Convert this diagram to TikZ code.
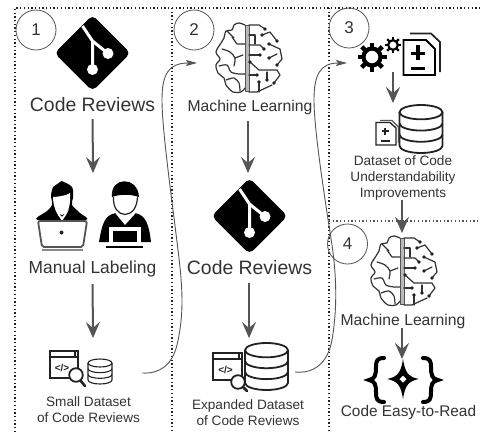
\documentclass[tikz,border=0pt]{standalone}
\usepackage{fontspec}
\setmainfont{Liberation Sans}
\usetikzlibrary{arrows.meta}
\definecolor{ink}{HTML}{333333}
\definecolor{flowgray}{HTML}{555555}
\definecolor{icon}{HTML}{222222}
\tikzset{
  frameline/.style={draw=icon,line width=1.1pt,dash pattern=on 1.3pt off 2.4pt},
  numcirc/.style={circle,draw=flowgray,line width=0.8pt,minimum size=40pt,inner sep=0pt,font=\fontsize{17}{17}\selectfont,text=ink},
  flow/.style={draw=flowgray,line width=2pt,-{Stealth[length=16pt,width=14pt,inset=6pt]}},
  curveline/.style={draw=flowgray,line width=0.9pt,-{Stealth[length=11pt,width=6pt,inset=2pt]}},
  hold/.style={inner sep=0pt,outer sep=0pt},
  lab/.style={inner sep=0pt,outer sep=0pt,text=ink,align=center},
  bigl/.style={lab,font=\fontsize{19.4}{22}\selectfont},
  midl/.style={lab,font=\fontsize{15.7}{18}\selectfont},
  manl/.style={lab,font=\fontsize{17.4}{20}\selectfont},
  smal/.style={lab,font=\fontsize{13.6}{15.8}\selectfont},
  brainline/.style={draw=ink,line width=1.2pt,line cap=round,line join=round},
  braindot/.style={fill=icon}
}
\newcommand\gitlogo[2]{%
  \begin{scope}[shift={(#1,#2)}]
    \fill[black,rounded corners=5pt] (-38,0) -- (0,-38) -- (38,0) -- (0,38) -- cycle;
    \draw[white,line width=3pt] (-10,-27) -- (0,-12) -- (0,16);
    \draw[white,line width=3pt] (0,-12) -- (15.5,0.5);
    \fill[white] (0,16.5) circle (5.5pt);
    \fill[white] (15.5,0.5) circle (5.5pt);
  \end{scope}}
\newcommand\brainicon[2]{%
  \begin{scope}[shift={(#1,#2)}]
    \draw[draw=flowgray,line width=0.8pt,fill=gray!55] (-2,-33) rectangle (2,33);
    \draw[brainline] plot[smooth,tension=0.55] coordinates {(-2,-33) (-8,-35) (-13,-33) (-15,-28) (-21,-27) (-23,-20) (-26,-15) (-31,-6) (-27,1) (-31,7) (-29,15) (-23,20) (-21,27) (-14,34) (-6,34) (-2,30)};
    \draw[brainline] (-2,-14) -- (-10,-14) -- (-15,-21);
    \draw[brainline] plot[smooth] coordinates {(-25,-9) (-17,-6) (-12,0) (-13,8)};
    \draw[brainline] (-12,0) -- (-4,-3);
    \draw[brainline] plot[smooth] coordinates {(-28,8) (-20,7) (-16,14) (-8,16) (-2,16)};
    \draw[brainline] plot[smooth] coordinates {(-21,22) (-13,20) (-8,25) (-7,33)};
    \draw[brainline] (-20,-27) -- (-13,-20);
    \draw[brainline] (2,-33) -- (12,-33) -- (18,-29);
    \draw[brainline] (15,-23) -- (23,-26) -- (30,-17);
    \draw[brainline] (22,-14) -- (33,-9) -- (35,1) -- (30,7);
    \draw[brainline] (2,-13) -- (13,-13) -- (17,-9);
    \draw[brainline] (2,-3) -- (13,-3);
    \draw[brainline] (22,0) -- (30,-4);
    \draw[brainline] (3,4) -- (12,12) -- (30,12) -- (33,17) -- (27,25);
    \draw[brainline] (2,34) -- (10,34) -- (25,27);
    \draw[brainline] (2,17) -- (10,17);
    \draw[brainline] (20,14) -- (20,22);
    \draw[brainline] (12,24) -- (12,34);
    \draw[brainline] (2,-23) -- (8,-23) -- (8,-14);
    \foreach \p in {(18,-29),(15,-23),(30,-17),(22,-14),(30,7),(17,-9),(13,-3),(22,0),(3,4),(27,25),(10,17),(20,22),(12,24)}
      \fill[braindot] \p circle (1.8pt);
  \end{scope}}
\newcommand\dbicon[5]{% cx, top, rx, height, line width
  \begin{scope}[shift={(#1,#2)},line width=#5]
    \pgfmathsetmacro\ry{#3/3}
    \pgfmathsetmacro\hh{#4-2*\ry}
    \path[fill=white] (-#3,\ry) -- (-#3,\ry+\hh) -- (#3,\ry+\hh) -- (#3,\ry) -- cycle;
    \draw[icon,fill=white] (0,\ry) ellipse [x radius=#3pt,y radius=\ry pt];
    \draw[icon] (-#3,\ry) -- (-#3,\ry+\hh) arc[start angle=180,end angle=360,x radius=#3pt,y radius=\ry pt] -- (#3,\ry);
    \draw[icon] (-#3,\ry+\hh/3) arc[start angle=180,end angle=360,x radius=#3pt,y radius=\ry pt];
    \draw[icon] (-#3,\ry+2*\hh/3) arc[start angle=180,end angle=360,x radius=#3pt,y radius=\ry pt];
  \end{scope}}
\newcommand\codewin[6]{% name,x,y,w,h,line width
  \begin{scope}[shift={(#2,#3)}]
    \draw[icon,line width=#6,fill=white] (0,0) rectangle (#4,#5);
    \draw[icon,line width=#6] (0,6) -- (#4,6);
    \fill[icon] (#4-4,1) rectangle (#4-2,5);
    \node[hold,text=icon,font=\bfseries\fontsize{10}{10}\selectfont] (#1) at (#4/2-2,#5/2+3) {</>};
  \end{scope}}
\newcommand\lens[4]{% cx, cy, hx, hy
  \draw[icon,line width=2.6pt,line cap=round] (#1,#2) -- (#3,#4);
  \draw[icon,line width=1.8pt,fill=white] (#1,#2) circle (6.8pt);}
\begin{document}
\begin{tikzpicture}[x=1pt,y=-1pt]
\useasboundingbox (0,0) rectangle (480,432);
\fill[white] (0,0) rectangle (480,432);
% frames
\draw[frameline] (15,432) -- (15,8) -- (480,8);
\draw[frameline] (172,8) -- (172,432);
\draw[frameline] (329,8) -- (329,432);
\draw[frameline,draw=flowgray] (329,221) -- (480,221);
% numbers
\node[numcirc] (n1) at (36,30) {1};
\node[numcirc] (n2) at (194,30) {2};
\node[numcirc] (n3) at (349,28) {3};
\node[numcirc] (n4) at (347.5,244) {4};
% icon holders (connector end points)
\node[hold,minimum width=100pt,minimum height=60pt] (brainA) at (247,63) {};
\node[hold,minimum width=36pt,minimum height=86pt] (gitB) at (248,216) {};
\node[hold,minimum width=130pt,minimum height=70pt] (people) at (93,208) {};
\node[hold,minimum width=95pt,minimum height=30pt] (smallset) at (94.5,373) {};
\node[hold,minimum width=96pt,minimum height=30pt] (bigset) at (247,372) {};
\node[hold,minimum width=96pt,minimum height=18pt] (toolkit) at (395,63) {};
\node[hold,minimum width=20pt,minimum height=52pt] (dbC) at (393,129) {};
\node[hold,minimum width=20pt,minimum height=72pt] (brainD) at (402,269) {};
\node[hold,minimum width=20pt,minimum height=40pt] (codeD) at (402,379) {};
\node[hold,minimum width=20pt,minimum height=60pt] (dbB) at (249,368) {};
\node[hold,minimum width=20pt,minimum height=40pt] (smalldb) at (93,358) {};
% git
\gitlogo{92.5}{53}
\gitlogo{249.5}{216}
% brains
\brainicon{247}{58}
\brainicon{402}{271}
% labels
\node[bigl] (crA) at (92.5,105) {Code Reviews};
\node[midl] (mlA) at (250,107) {Machine Learning};
\node[manl] (manual) at (92.5,269) {Manual Labeling};
\node[bigl] (crB) at (249.5,268) {Code Reviews};
\node[smal] (smalltxt) at (88.5,410) {Small Dataset\\of Code Reviews};
\node[smal] (exptxt) at (248,412.5) {Expanded Dataset\\of Code Reviews};
\node[smal] (imptxt) at (403,178) {Dataset of Code\\Understandability\\Improvements};
\node[midl] (mlB) at (403,321) {Machine Learning};
\node[midl,font=\fontsize{15.4}{18}\selectfont] (easy) at (408.5,413) {Code Easy-to-Read};
% people: woman
\fill[black] plot[smooth,tension=0.6] coordinates {(61.5,181) (72,187) (73,198) (72,205) (80,213) (85,220) (38,220) (47,211) (52,205) (51,195) (53,187)} -- cycle;
\fill[white] (53,197) .. controls (58,197) and (68,195) .. (70,193) .. controls (71,205) and (68,215) .. (62,215) .. controls (56,215) and (53,205) .. (53,197);
\fill[white] (55,209) -- (62,217) -- (69,209) -- (66,215) -- (62,221) -- (58,215) -- cycle;
\draw[flowgray,line width=1.8pt,fill=white,rounded corners=2pt] (38,221) -- (87,221) -- (83,247) -- (42,247) -- cycle;
\fill[icon] (61.5,232.5) circle (2pt);
\draw[flowgray!70,line width=2pt] (42,250) -- (83,250);
% people: man
\fill[black] (99,242) .. controls (102,225) and (104,215) .. (116,213) -- (125,224) -- (135,213) .. controls (146,215) and (149,225) .. (151,242) -- cycle;
\draw[icon,line width=1.2pt,fill=white] (113.5,197) .. controls (113,208) and (118,214) .. (125,214.5) .. controls (132,214) and (137,208) .. (137.5,197);
\fill[black] (112,197) .. controls (110,176) and (138,176) .. (139,197) .. controls (130,194) and (120,194) .. (112,197);
\draw[white,line width=1.2pt] (116,213) -- (125,224) -- (135,213);
\fill[white] (109,227) rectangle (141,244);
\fill[black] (113,230.5) rectangle (137,242);
\draw[black,line width=2.2pt] (106,247) -- (143,247);
% small dataset
\codewin{tagA}{50}{351}{28}{27}{1.6pt}
\lens{76}{375}{85}{386}
\dbicon{100}{359}{12}{25}{1.1pt}
% expanded dataset
\codewin{tagB}{213}{353}{29}{27}{1.6pt}
\lens{238}{382}{247}{391}
\dbicon{266.5}{343}{21.5}{47}{1.8pt}
% db with documents
\dbicon{421}{105}{21.5}{48}{1.8pt}
\draw[flowgray,line width=1.1pt] (380,120.5) -- (392,120.5) -- (398.5,127) -- (398.5,143);
\draw[icon,line width=1.3pt,fill=white] (376,122.5) -- (390,122.5) -- (396,128) -- (396,145) -- (376,145) -- cycle;
\fill[icon] (382,130) rectangle (388.5,132);
\fill[icon] (384.2,127.5) rectangle (386.2,134.5);
\fill[icon] (381,140) rectangle (389.5,142);
% gears
\begin{scope}[shift={(372,57)}]
  \foreach \a in {0,45,...,315}
    \draw[black,line width=4.5pt] (\a:8) -- (\a:14.5);
  \draw[black,line width=4.2pt] (0,0) circle (8.5pt);
\end{scope}
\begin{scope}[shift={(393,45)}]
  \foreach \a in {0,45,...,315}
    \draw[black,line width=2.4pt] (\a:4) -- (\a:8.3);
  \draw[black,line width=2.2pt] (0,0) circle (4.8pt);
\end{scope}
% big document
\draw[icon,line width=1.7pt] (410,33.5) -- (431,33.5) -- (440,42) -- (440,72);
\draw[black,line width=1.9pt,fill=white] (403.5,40) -- (426,40) -- (435,49) -- (435,75) -- (403.5,75) -- cycle;
\fill[black] (411,51.5) rectangle (425,55);
\fill[black] (416.2,45) rectangle (419.8,60);
\fill[black] (411,66.5) rectangle (425,70);
% code icon
\draw[black,line width=4pt,line cap=round] (384,358) .. controls (377,358) and (376,361) .. (376,367) .. controls (376,375) and (375,379) .. (369,380) .. controls (375,381) and (376,385) .. (376,392) .. controls (376,399) and (377,402) .. (384,402);
\draw[black,line width=4pt,line cap=round] (423,358) .. controls (430,358) and (431,361) .. (431,367) .. controls (431,375) and (432,379) .. (438,380) .. controls (432,381) and (431,385) .. (431,392) .. controls (431,399) and (430,402) .. (423,402);
\fill[black] (403,359) .. controls (405,372) and (408,377) .. (419,379) .. controls (408,381) and (405,386) .. (403,399) .. controls (401,386) and (398,381) .. (387,379) .. controls (398,377) and (401,372) .. (403,359) -- cycle;
\fill[white] (403,375.5) -- (406.5,379) -- (403,382.5) -- (399.5,379) -- cycle;
% connectors
\draw[flow,shorten <=7pt] (crA.south) -- (people.north);
\draw[flow,shorten <=7pt] (manual.south) -- (smalldb.north);
\draw[flow,shorten <=7pt] (mlA.south -| gitB.north) -- (gitB.north);
\draw[flow,shorten <=8pt] (crB.south -| dbB.north) -- (dbB.north);
\draw[flow] (toolkit.south -| dbC.north) -- (dbC.north);
\draw[flow] (imptxt.south -| brainD.north) -- (brainD.north);
\draw[flow] (mlB.south -| codeD.north) -- (codeD.north);
\draw[curveline] (smallset.east) .. controls (160,374) and (172,365) .. (177,345) .. controls (184,315) and (183,290) .. (178,250) .. controls (172,200) and (162,130) .. (162,100) .. controls (162,75) and (168,63) .. (brainA.west);
\draw[curveline] (bigset.east) .. controls (315,374) and (328,362) .. (332,340) .. controls (337,310) and (337,280) .. (332,245) .. controls (325,200) and (314,130) .. (314,100) .. controls (314,75) and (320,63) .. (toolkit.west);
\end{tikzpicture}
\end{document}
